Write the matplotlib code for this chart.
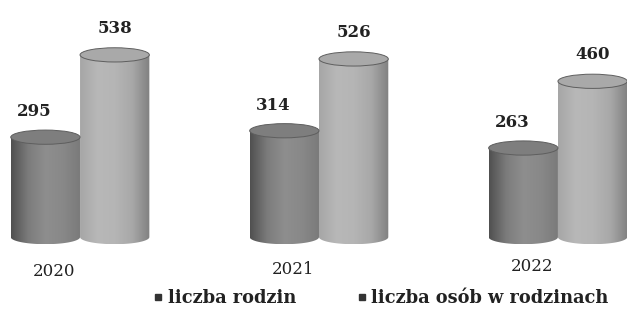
import numpy as np
import matplotlib.pyplot as plt
from matplotlib.patches import Ellipse, PathPatch
from matplotlib.path import Path
from matplotlib.lines import Line2D
from matplotlib.colors import LinearSegmentedColormap

years = ["2020", "2021", "2022"]
rodziny = [295, 314, 263]
osoby = [538, 526, 460]
series_names = ["liczba rodzin", "liczba osób w rodzinach"]
year_y = [-103, -97, -88]

font = "DejaVu Serif"
w = 0.29
cap = 42  # ellipse height in data units

dark_cmap = LinearSegmentedColormap.from_list("d", ["#505050", "#7c7c7c", "#8e8e8e", "#888888", "#7a7a7a"])
light_cmap = LinearSegmentedColormap.from_list("l", ["#a6a6a6", "#b8b8b8", "#b5b5b5", "#a8a8a8", "#808080"])

fig = plt.figure(figsize=(6.27, 3.15), dpi=100)
ax = fig.add_axes([0, 0, 1, 1])
ax.set_xlim(-0.335, 2.289)
ax.set_ylim(-230, 700)
ax.axis("off")

x = np.arange(len(years))
grad = np.linspace(0, 1, 256).reshape(1, -1)


def cylinder(xc, h, cmap, top_col):
    ax.bar(xc, h, w, color="none", edgecolor="none")
    body = ax.imshow(grad, cmap=cmap, aspect="auto", zorder=2,
                     extent=(xc - w / 2, xc + w / 2, -cap / 2, h))
    # clip body to the bar with a rounded bottom
    t = np.linspace(np.pi, 2 * np.pi, 40)
    verts = ([(xc - w / 2, h)]
             + [(xc + w / 2 * np.cos(a), cap / 2 * np.sin(a)) for a in t]
             + [(xc + w / 2, h), (xc - w / 2, h)])
    pp = PathPatch(Path(verts), facecolor="none", edgecolor="none")
    ax.add_patch(pp)
    body.set_clip_path(pp)
    ax.add_patch(Ellipse((xc, h), w, cap, facecolor=top_col, edgecolor="#5e5e5e",
                         linewidth=0.7, zorder=3))


for i in range(len(years)):
    cylinder(x[i] - w / 2, rodziny[i], dark_cmap, "#7e7e7e")
    cylinder(x[i] + w / 2, osoby[i], light_cmap, "#a9a9a9")
    ax.text(x[i] - w / 2 - 0.045, rodziny[i] + 75, str(rodziny[i]), ha="center", va="center",
            fontsize=12, fontweight="bold", family=font, color="#222222")
    ax.text(x[i] + w / 2, osoby[i] + 78, str(osoby[i]), ha="center", va="center",
            fontsize=12, fontweight="bold", family=font, color="#222222")
    ax.text(x[i] - 0.11, year_y[i], years[i], ha="center", va="center",
            fontsize=12, family=font, color="#222222")

handles = [Line2D([], [], marker="s", linestyle="none", markersize=5, color="#333333")
           for _ in series_names]
fig.legend(handles, series_names, loc="center", bbox_to_anchor=(0.604, 0.054), ncol=2,
           frameon=False, handletextpad=0.05, columnspacing=3.2, handlelength=1.0,
           prop={"family": font, "size": 12.8, "weight": "bold"}, labelcolor="#222222")

fig.savefig("out.png", dpi=100)
